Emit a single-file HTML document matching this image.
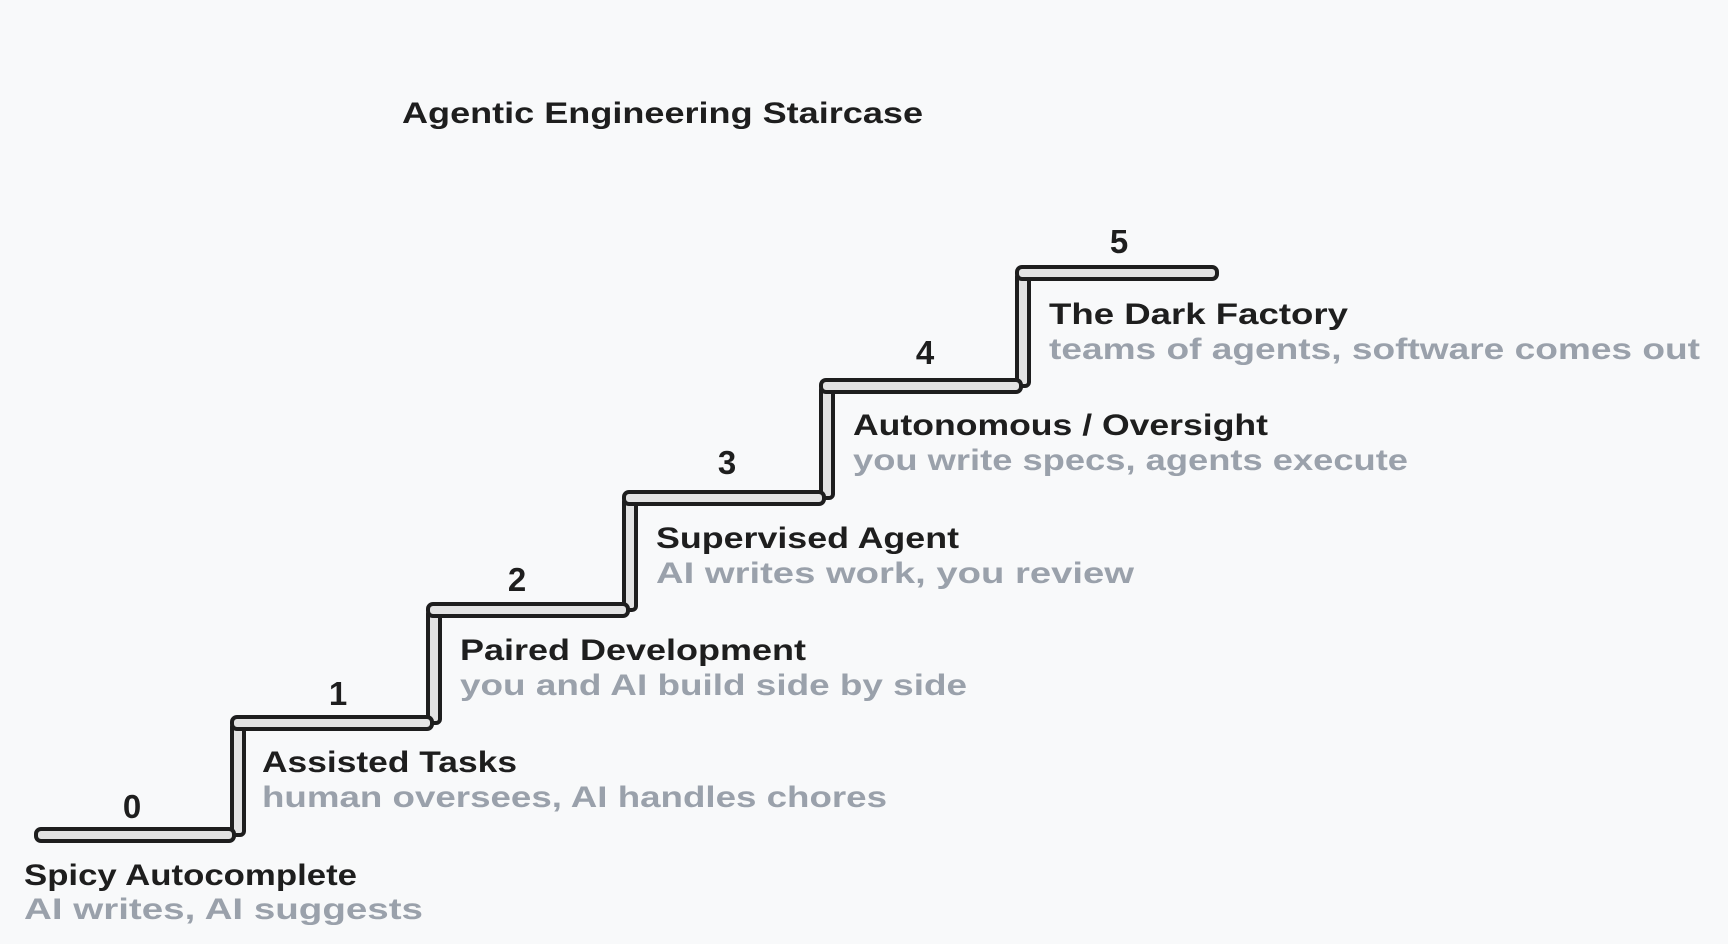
<!DOCTYPE html>
<html><head><meta charset="utf-8"><style>
html,body{margin:0;padding:0;background:#f8f9fa;}
svg{display:block;}
text{font-family:"Liberation Sans",sans-serif;font-weight:bold;}
.t{fill:#1e1e1e;font-size:30px;}
.s{fill:#9aa1ab;font-size:30px;}
.n{fill:#1e1e1e;font-size:33px;text-anchor:middle;}
.tr{fill:#e3e3e3;stroke:#1e1e1e;stroke-width:4;}
</style></head><body>
<svg width="1728" height="944" viewBox="0 0 1728 944" xmlns="http://www.w3.org/2000/svg">
<rect width="1728" height="944" fill="#f8f9fa"/>
<text class="t" x="402" y="123" textLength="521" lengthAdjust="spacingAndGlyphs">Agentic Engineering Staircase</text>

<rect class="tr" x="232" y="723" width="12" height="112" rx="4"/>
<rect class="tr" x="428" y="610" width="12" height="113" rx="4"/>
<rect class="tr" x="624" y="498" width="12" height="112" rx="4"/>
<rect class="tr" x="821" y="386" width="12" height="112" rx="4"/>
<rect class="tr" x="1017" y="273" width="12" height="113" rx="4"/>
<rect class="tr" x="36" y="829" width="198" height="12" rx="5"/>
<rect class="tr" x="232" y="717" width="200" height="12" rx="5"/>
<rect class="tr" x="428" y="604" width="200" height="12" rx="5"/>
<rect class="tr" x="624" y="492" width="200" height="12" rx="5"/>
<rect class="tr" x="821" y="380" width="200" height="12" rx="5"/>
<rect class="tr" x="1017" y="267" width="200" height="12" rx="5"/>

<text class="n" x="132" y="818">0</text>
<text class="n" x="338" y="705">1</text>
<text class="n" x="517" y="591">2</text>
<text class="n" x="727" y="474">3</text>
<text class="n" x="925" y="364">4</text>
<text class="n" x="1119" y="253">5</text>

<text class="t" x="24" y="885" textLength="333" lengthAdjust="spacingAndGlyphs">Spicy Autocomplete</text>
<text class="s" x="24" y="919" textLength="399" lengthAdjust="spacingAndGlyphs">AI writes, AI suggests</text>
<text class="t" x="262" y="772" textLength="255" lengthAdjust="spacingAndGlyphs">Assisted Tasks</text>
<text class="s" x="262" y="807" textLength="625" lengthAdjust="spacingAndGlyphs">human oversees, AI handles chores</text>
<text class="t" x="460" y="660" textLength="346" lengthAdjust="spacingAndGlyphs">Paired Development</text>
<text class="s" x="460" y="695" textLength="507" lengthAdjust="spacingAndGlyphs">you and AI build side by side</text>
<text class="t" x="656" y="548" textLength="303" lengthAdjust="spacingAndGlyphs">Supervised Agent</text>
<text class="s" x="656" y="583" textLength="478" lengthAdjust="spacingAndGlyphs">AI writes work, you review</text>
<text class="t" x="853" y="435" textLength="415" lengthAdjust="spacingAndGlyphs">Autonomous / Oversight</text>
<text class="s" x="853" y="470" textLength="555" lengthAdjust="spacingAndGlyphs">you write specs, agents execute</text>
<text class="t" x="1049" y="324" textLength="299" lengthAdjust="spacingAndGlyphs">The Dark Factory</text>
<text class="s" x="1049" y="359" textLength="651" lengthAdjust="spacingAndGlyphs">teams of agents, software comes out</text>
</svg>
</body></html>
